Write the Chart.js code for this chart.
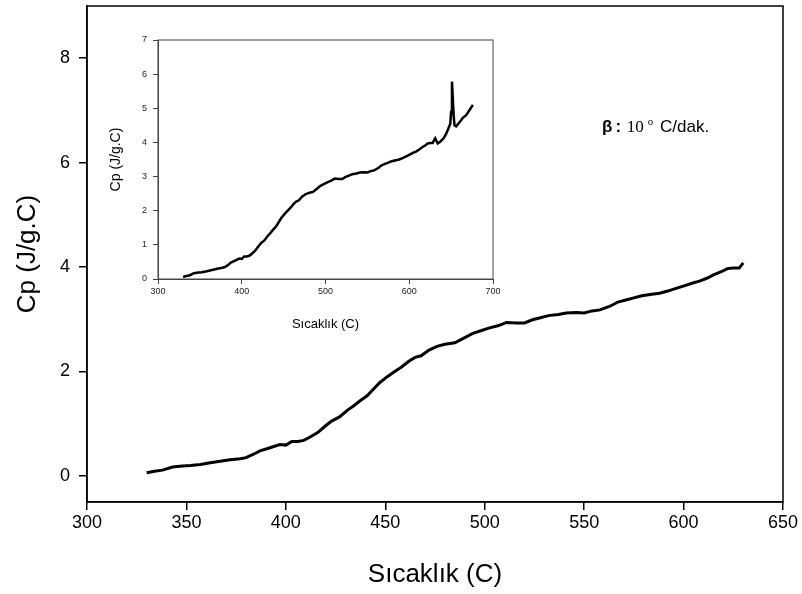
<!DOCTYPE html>
<html>
<head>
<meta charset="utf-8">
<script src="https://cdn.jsdelivr.net/npm/chart.js@4"></script>
<style>
  body { margin: 0; background: #fff; }
  #wrap { position: relative; width: 802px; height: 594px; }
  #mainChart { position: absolute; left: 0; top: 0; }
  #insetChart { position: absolute; left: 100px; top: 30px; }
  #note {
    position: absolute; left: 602px; top: 111px;
    font: 17px/20px "Liberation Sans", Arial, sans-serif;
    color: #000; white-space: nowrap;
  }
  #note .colon { margin-left: 3px; }
  #note .serif { font-family: "Liberation Serif", "Times New Roman", serif; font-size: 17px; margin-left: 1px; }
  #note sup { font-family: "Liberation Serif", serif; font-size: 11px; vertical-align: 7px; margin-left: 4px; }
  #note .unit { margin-left: 2px; }
</style>
</head>
<body>
<div id="wrap">
  <canvas id="mainChart" width="802" height="594"></canvas>
  <canvas id="insetChart" width="410" height="305"></canvas>
  <div id="note"><b>β</b><b class="colon">:</b> <span class="serif">10</span><sup>o</sup> <span class="unit">C/dak.</span></div>
</div>
<script>
// Cp measurement (heating rate 10 C/min)
const temperature = [
  330, 334, 338, 343, 348, 352, 357, 362, 367, 372,
  377, 380, 384, 387, 392, 397, 400, 403, 406, 409,
  412, 416, 420, 423, 427, 431, 434, 437, 441, 444,
  447, 451, 454, 458, 462, 465, 468, 472, 476, 480,
  485, 489, 494, 498, 502, 507, 511, 516, 520, 524,
  528, 532, 537, 541, 546, 550, 554, 558, 563, 567,
  571, 575, 579, 584, 588, 592, 597, 601, 605, 608,
  612, 615, 619, 622, 625, 628, 630,
  631, 634, 637, 641, 644, 647, 649, 650, 651, 652,
  653, 654, 656, 658, 661, 664, 668, 672, 676
];
const cp = [
  0.06, 0.09, 0.11, 0.17, 0.19, 0.20, 0.22, 0.25, 0.28, 0.31,
  0.33, 0.35, 0.42, 0.48, 0.54, 0.60, 0.59, 0.66, 0.66, 0.68,
  0.74, 0.83, 0.96, 1.05, 1.13, 1.26, 1.34, 1.43, 1.54, 1.66,
  1.78, 1.90, 1.98, 2.08, 2.20, 2.27, 2.30, 2.41, 2.48, 2.52,
  2.55, 2.63, 2.73, 2.78, 2.83, 2.88, 2.94, 2.93, 2.93, 2.99,
  3.03, 3.07, 3.09, 3.12, 3.13, 3.12, 3.16, 3.18, 3.25, 3.33,
  3.37, 3.41, 3.45, 3.48, 3.50, 3.54, 3.60, 3.65, 3.70, 3.73,
  3.79, 3.85, 3.91, 3.97, 3.98, 3.98, 4.08,
  4.12, 3.97, 4.02, 4.12, 4.25, 4.42, 4.55, 4.90, 5.78, 5.30,
  4.80, 4.50, 4.47, 4.53, 4.62, 4.72, 4.80, 4.95, 5.10
];
const mainLastTemp = 630; // main plot stops here, inset shows the full run

const mainXTicks = [300, 350, 400, 450, 500, 550, 600, 650];
const mainYTicks = [0, 2, 4, 6, 8];
const insetXTicks = [300, 400, 500, 600, 700];
const insetYTicks = [0, 1, 2, 3, 4, 5, 6, 7];

const allPoints = temperature.map((t, i) => ({ x: t, y: cp[i] }));
const mainPoints = allPoints.filter(p => p.x <= mainLastTemp);

const SANS = '"Liberation Sans", Arial, sans-serif';

// box around the plot area (top + right edges like the original)
const framePlugin = {
  id: 'frame',
  afterDraw(chart, args, opts) {
    const { ctx, chartArea: a } = chart;
    ctx.save();
    ctx.strokeStyle = opts.color;
    ctx.lineWidth = opts.width;
    ctx.strokeRect(a.left, a.top, a.right - a.left, a.bottom - a.top);
    ctx.restore();
  }
};

function fixedTicks(list) {
  return scale => { scale.ticks = list.map(v => ({ value: v })); };
}

function makeChart(id, cfg) {
  return new Chart(document.getElementById(id), {
    type: 'scatter',
    data: {
      datasets: [{
        data: cfg.points,
        showLine: true,
        borderColor: '#000',
        borderWidth: cfg.lineWidth,
        pointRadius: 0,
        tension: 0
      }]
    },
    options: {
      responsive: false,
      animation: false,
      events: [],
      layout: { padding: cfg.padding },
      plugins: {
        legend: { display: false },
        tooltip: { enabled: false },
        frame: { color: cfg.axisColor, width: cfg.axisWidth }
      },
      scales: {
        x: {
          type: 'linear',
          min: cfg.xMin, max: cfg.xMax,
          afterBuildTicks: fixedTicks(cfg.xTicks),
          afterFit: s => { s.height = cfg.xHeight; s.paddingLeft = 0; s.paddingRight = 0; },
          grid: { drawOnChartArea: false, drawTicks: true, tickLength: cfg.tickLen, color: cfg.axisColor, lineWidth: cfg.axisWidth },
          border: { display: true, color: cfg.axisColor, width: cfg.axisWidth },
          ticks: { color: cfg.tickColor, font: { family: SANS, size: cfg.tickSize }, padding: cfg.xTickPad, maxRotation: 0 },
          title: { display: true, text: 'Sıcaklık (C)', color: '#000', font: { family: SANS, size: cfg.xTitleSize }, padding: { top: 0, bottom: cfg.xTitlePad } }
        },
        y: {
          type: 'linear',
          min: cfg.yMin, max: cfg.yMax,
          afterBuildTicks: fixedTicks(cfg.yTicks),
          afterFit: s => { s.width = cfg.yWidth; s.paddingTop = 0; s.paddingBottom = 0; },
          grid: { drawOnChartArea: false, drawTicks: true, tickLength: cfg.tickLen, color: cfg.axisColor, lineWidth: cfg.axisWidth },
          border: { display: true, color: cfg.axisColor, width: cfg.axisWidth },
          ticks: { color: cfg.tickColor, font: { family: SANS, size: cfg.tickSize }, padding: cfg.yTickPad },
          title: { display: true, text: 'Cp (J/g.C)', color: '#000', font: { family: SANS, size: cfg.yTitleSize }, padding: { top: cfg.yTitlePad, bottom: 0 } }
        }
      }
    },
    plugins: [framePlugin]
  });
}

makeChart('mainChart', {
  points: mainPoints, lineWidth: 3,
  padding: { left: 0, top: 6, right: 19, bottom: 0 },
  xMin: 300, xMax: 650, yMin: -0.5, yMax: 9,
  xTicks: mainXTicks, yTicks: mainYTicks,
  xHeight: 92, yWidth: 87,
  tickLen: 8, axisColor: '#000', axisWidth: 1.5,
  tickColor: '#000', tickSize: 18, xTickPad: 2, yTickPad: 9,
  xTitleSize: 26, xTitlePad: 4, yTitleSize: 26, yTitlePad: 12
});

makeChart('insetChart', {
  points: allPoints, lineWidth: 2.5,
  padding: { left: 0, top: 10, right: 17, bottom: 0 },
  xMin: 300, xMax: 700, yMin: 0, yMax: 7,
  xTicks: insetXTicks, yTicks: insetYTicks,
  xHeight: 56, yWidth: 58,
  tickLen: 5, axisColor: '#444', axisWidth: 1,
  tickColor: '#222', tickSize: 9, xTickPad: 2, yTickPad: 6,
  xTitleSize: 13, xTitlePad: 3, yTitleSize: 14, yTitlePad: 8
});
</script>
</body>
</html>
